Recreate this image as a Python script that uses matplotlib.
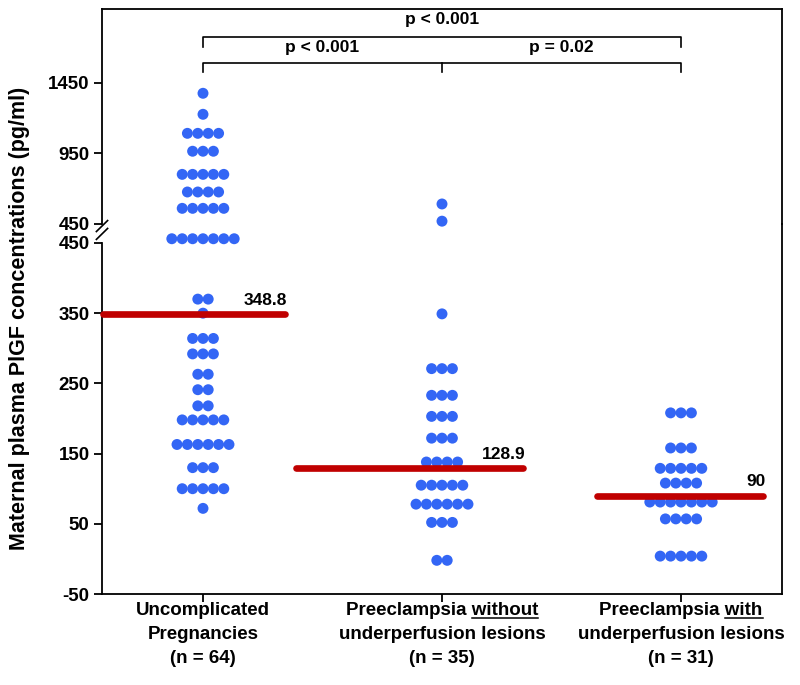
import matplotlib
matplotlib.use('Agg')
import matplotlib.pyplot as plt
from matplotlib.lines import Line2D
from collections import Counter

# group labels (first line, underlined word, rest)
first_lines = ['Uncomplicated', 'Preeclampsia without', 'Preeclampsia with']
underlined = [None, 'without', 'with']
second_lines = ['Pregnancies', 'underperfusion lesions', 'underperfusion lesions']
n_lines = ['(n = 64)', '(n = 35)', '(n = 31)']

# PlGF values (pg/ml)
uncomplicated = [1377, 1228, 1093, 1093, 1093, 1093, 966, 966, 966,
                 802, 802, 802, 802, 802, 677, 677, 677, 677,
                 561, 561, 561, 561, 561, 456, 456, 456, 456, 456, 456, 456,
                 370, 370, 350, 314, 314, 314, 292, 292, 292, 263, 263,
                 241, 241, 218, 218, 198, 198, 198, 198, 198,
                 163, 163, 163, 163, 163, 163, 130, 130, 130,
                 100, 100, 100, 100, 100, 72]
pe_without = [592, 470, 349, 271, 271, 271, 233, 233, 233, 203, 203, 203,
              172, 172, 172, 138, 138, 138, 138, 105, 105, 105, 105, 105,
              78, 78, 78, 78, 78, 78, 52, 52, 52, -2, -2]
pe_with = [208, 208, 208, 158, 158, 158, 129, 129, 129, 129, 129,
           108, 108, 108, 108, 81, 81, 81, 81, 81, 81, 81,
           57, 57, 57, 57, 4, 4, 4, 4, 4]
all_groups = [uncomplicated, pe_without, pe_with]

medians = [348.8, 128.9, 90]
median_labels = ['348.8', '128.9', '90']

comparisons = [(1, 3, 'p < 0.001'), (1, 2, 'p < 0.001'), (2, 3, 'p = 0.02')]

lower_ticks = [-50, 50, 150, 250, 350, 450]
upper_ticks = [450, 950, 1450]

BLUE = '#3366F5'
RED = '#C00000'
BOLD = ['Liberation Sans', 'DejaVu Sans']

fig = plt.figure(figsize=(8, 6.85), dpi=100)
ax_lo = fig.add_axes([0.1275, 0.1328, 0.85, 0.5402])
ax_up = fig.add_axes([0.1275, 0.6730, 0.85, 0.3139])

xlim = (0.5774, 3.4226)
for ax in (ax_lo, ax_up):
    ax.set_xlim(*xlim)
    ax.set_facecolor('none')
    for s in ax.spines.values():
        s.set_linewidth(1.3)
    ax.tick_params(axis='y', direction='out', length=6, width=1.3, pad=3)
    ax.tick_params(axis='x', direction='out', length=6, width=1.3)

ax_lo.set_ylim(-50, 477)
ax_up.set_ylim(450, 1975)
ax_lo.spines['top'].set_visible(False)
ax_up.spines['bottom'].set_visible(False)
ax_lo.spines['left'].set_bounds(-50, 450)
ax_lo.set_yticks(lower_ticks)
ax_up.set_yticks(upper_ticks)
ax_lo.set_yticklabels([str(t) for t in lower_ticks], fontweight='bold', family=BOLD, fontsize=13.5)
ax_up.set_yticklabels([str(t) for t in upper_ticks], fontweight='bold', family=BOLD, fontsize=13.5)
ax_up.set_xticks([])
ax_lo.set_xticks([1, 2, 3])
ax_lo.set_xticklabels([])

# dots, stacked side by side on shared values
step = 0.0435
for gi, vals in enumerate(all_groups):
    x0 = gi + 1
    for v, n in Counter(vals).items():
        xs = [x0 + (i - (n - 1) / 2) * step for i in range(n)]
        ax = ax_up if v > 460 else ax_lo
        ax.scatter(xs, [v] * n, s=62, color=BLUE, edgecolors='none',
                   zorder=3, clip_on=False)

# median bars
bar_ext = [(0.42, 0.343), (0.61, 0.339), (0.351, 0.343)]
for gi, (m, lab) in enumerate(zip(medians, median_labels)):
    x0 = gi + 1
    left, right = bar_ext[gi]
    ax_lo.plot([x0 - left, x0 + right], [m, m], color=RED, lw=4.8,
               solid_capstyle='round', zorder=4, clip_on=False)
    ax_lo.text(x0 + right + 0.01, m + 9, lab, ha='right', va='bottom',
               fontsize=12.5, fontweight='bold', family=BOLD)

# significance brackets
ax_up.plot([1, 1, 3, 3], [1705, 1776, 1776, 1705], color='black', lw=1.2, clip_on=False)
ax_up.plot([1, 1, 3, 3], [1528, 1592, 1592, 1528], color='black', lw=1.2, clip_on=False)
ax_up.plot([2, 2], [1592, 1528], color='black', lw=1.2, clip_on=False)
for a, b, txt in comparisons:
    y = 1897 if (a, b) == (1, 3) else 1705
    ax_up.text((a + b) / 2, y, txt, ha='center', va='center', fontsize=12.5,
               fontweight='bold', family=BOLD)

# axis break marks on the left spine
for yy in (0.6585, 0.6700):
    fig.add_artist(Line2D([0.1205, 0.1345], [yy - 0.008, yy + 0.008],
                          color='black', lw=1.2))

fig.text(0.025, 0.535, 'Maternal plasma PlGF concentrations (pg/ml)', rotation=90,
         ha='center', va='center', fontsize=15.5, fontweight='bold', family=BOLD)

# x category labels, three lines each
line_y = [-0.045, -0.109, -0.173]
label_size = 13.5
texts = []
for gi in range(3):
    x0 = gi + 1
    tr = ax_lo.get_xaxis_transform()
    t1 = ax_lo.text(x0, line_y[0], first_lines[gi], transform=tr, ha='center',
                    va='center', fontsize=label_size, fontweight='bold', family=BOLD)
    ax_lo.text(x0, line_y[1], second_lines[gi], transform=tr, ha='center',
               va='center', fontsize=label_size, fontweight='bold', family=BOLD)
    ax_lo.text(x0, line_y[2], n_lines[gi], transform=tr, ha='center',
               va='center', fontsize=label_size, fontweight='bold', family=BOLD)
    texts.append(t1)

fig.canvas.draw()
renderer = fig.canvas.get_renderer()
inv = fig.transFigure.inverted()
for t1, word in zip(texts, underlined):
    if word is None:
        continue
    bb = t1.get_window_extent(renderer)
    tmp = fig.text(0, 0, word, fontsize=label_size, fontweight='bold', family=BOLD)
    w = tmp.get_window_extent(renderer).width
    tmp.remove()
    (x1, y1) = inv.transform((bb.x1 - w, bb.y0 + 1))
    (x2, _) = inv.transform((bb.x1, bb.y0 + 1))
    fig.add_artist(Line2D([x1, x2], [y1, y1], color='black', lw=1.1))

fig.savefig('out.png', dpi=100)
